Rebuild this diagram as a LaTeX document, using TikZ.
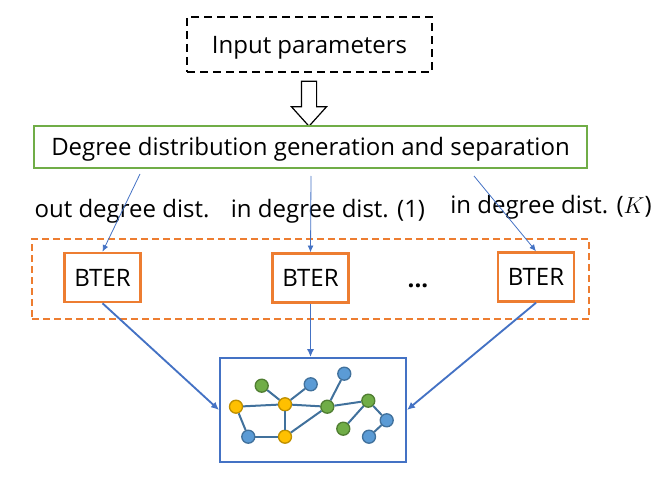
\documentclass[tikz,border=0pt]{standalone}
\usepackage{fontspec}
\setmainfont{Open Sans}
\usepackage{tikz}
\usetikzlibrary{arrows.meta,shapes.arrows}

\definecolor{msgreen}{HTML}{70AD47}
\definecolor{msorange}{HTML}{ED7D31}
\definecolor{msblue}{HTML}{4472C4}
\definecolor{vblue}{HTML}{5B9BD5}
\definecolor{vblueline}{HTML}{41719C}
\definecolor{vgreenline}{HTML}{507E32}
\definecolor{vyellow}{HTML}{FFC000}
\definecolor{vyellowline}{HTML}{BF9000}

\begin{document}
\begin{tikzpicture}[
  x=0.75pt, y=-0.75pt,
  font=\fontsize{18pt}{22pt}\selectfont,
  textbox/.style={inner sep=0pt, align=center, text height=12.8pt, text depth=0pt},
  dashbox/.style={textbox, draw, line width=1.9pt, dash pattern=on 6pt off 3.75pt, minimum width=183.75pt, minimum height=41.25pt},
  greenbox/.style={textbox, draw=msgreen, line width=1.5pt, minimum width=414.75pt, minimum height=31.5pt},
  bterbox/.style={textbox, draw=msorange, line width=1.9pt, minimum width=57pt, minimum height=36.75pt},
  groupbox/.style={draw=msorange, line width=1.5pt, dash pattern=on 5.25pt off 3pt, minimum width=417.75pt, minimum height=60pt},
  netbox/.style={draw=msblue, line width=1.5pt, minimum width=139.5pt, minimum height=78pt},
  hollowarrow/.style={single arrow, draw, line width=0.9pt, rotate=-90, inner xsep=0pt, inner ysep=5.25pt, minimum height=33.75pt, single arrow head extend=7.5pt, single arrow tip angle=84},
  distlabel/.style={anchor=base, inner sep=0pt},
  thinarrow/.style={-{Latex[length=5pt, width=4.5pt]}, msblue, line width=0.6pt},
  arrow/.style={-{Latex[length=6pt, width=5.5pt]}, msblue, line width=1.4pt},
  vertex/.style={circle, inner sep=0pt, minimum size=9.75pt, line width=1pt},
  vb/.style={vertex, fill=vblue, draw=vblueline},
  vg/.style={vertex, fill=msgreen, draw=vgreenline},
  vy/.style={vertex, fill=vyellow, draw=vyellowline},
  edge/.style={vblueline, line width=1.5pt}
]
\useasboundingbox (0,0) rectangle (666,477);

\node[dashbox] (input) at (309.5,44.5) {Input parameters};
\node[hollowarrow] (push) at (309,99.5) {};
\node[greenbox] (degree) at (310.5,146.7) {Degree distribution generation and separation};

\node[distlabel] (outdist) at (122,217) {out degree dist.};
\node[distlabel] (indist1) at (328,217) {in degree dist. (1)};
\node[distlabel] (indistK) at (551,213) {in degree dist. ($K$)};

\node[groupbox] (group) at (310.5,279) {};
\node[bterbox] (bter1) at (102.5,277.5) {BTER};
\node[bterbox] (bter2) at (310.5,278) {BTER};
\node[bterbox] (bter3) at (536,277) {BTER};
\node[distlabel] (dots) at (418,287) {\bfseries ...};

\node[netbox] (net) at (313,410) {};

% sampled graph
\node[vy] (ya) at (236,406.7) {};
\node[vg] (gb) at (261.7,385.7) {};
\node[vb] (bc) at (310.7,384.3) {};
\node[vy] (yd) at (285,404.3) {};
\node[vb] (be) at (344.3,373.7) {};
\node[vg] (gf) at (327.3,406.7) {};
\node[vg] (gg) at (368.3,400.7) {};
\node[vb] (bh) at (386.7,420.3) {};
\node[vg] (gi) at (343.3,428.7) {};
\node[vb] (bj) at (369,436.7) {};
\node[vb] (bk) at (248.3,436.7) {};
\node[vy] (yl) at (285,436.7) {};
\foreach \a/\b in {ya/yd, ya/bk, bk/yl, yl/yd, yd/gb, yd/bc, yd/gf, yl/gf, gf/be, gf/gg, gg/gi, gg/bh, bh/bj}
  \draw[edge] (\a) -- (\b);

\coordinate (split1) at (140,174);
\coordinate (split2) at (311,176);
\coordinate (split3) at (474,176);
\draw[thinarrow] (split1) -- (bter1.north);
\draw[thinarrow] (split2) -- (bter2.north);
\draw[thinarrow] (split3) -- (bter3.north);

\draw[arrow] (bter1.south) -- (net.west);
\draw[arrow] (bter2.south) -- (bter2.south |- net.north);
\draw[arrow] (bter3.south) -- (net.east);
\end{tikzpicture}
\end{document}
